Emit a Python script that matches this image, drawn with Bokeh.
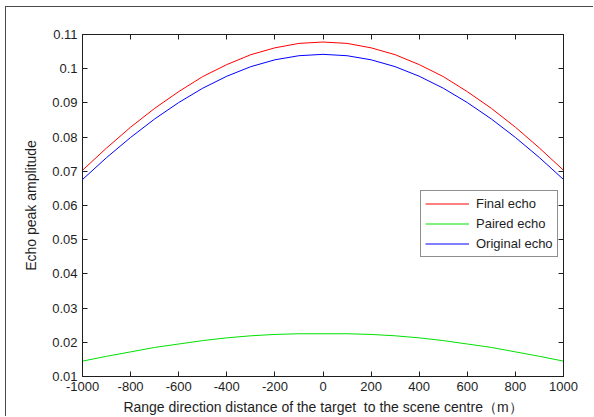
from bokeh.plotting import figure
from bokeh.models import Range1d, FixedTicker, LinearAxis
from bokeh.embed import file_html
from bokeh.resources import INLINE

# Range direction distance of the target to the scene centre (m)
distance = [-1000, -900, -800, -700, -600, -500, -400, -300, -200, -100, 0,
            100, 200, 300, 400, 500, 600, 700, 800, 900, 1000]

final_echo = [0.0703, 0.0768, 0.0829, 0.0884, 0.0933, 0.0977, 0.1012, 0.1041, 0.1061, 0.1074, 0.1078,
              0.1074, 0.1061, 0.1041, 0.1012, 0.0977, 0.0933, 0.0884, 0.0829, 0.0768, 0.0703]
paired_echo = [0.0145, 0.0159, 0.0172, 0.0185, 0.0195, 0.0205, 0.0213, 0.0219, 0.0223, 0.0225, 0.0225,
               0.0225, 0.0223, 0.0219, 0.0213, 0.0205, 0.0195, 0.0185, 0.0172, 0.0159, 0.0145]
original_echo = [0.0676, 0.0740, 0.0799, 0.0853, 0.0901, 0.0943, 0.0978, 0.1006, 0.1026, 0.1038, 0.1042,
                 0.1038, 0.1026, 0.1006, 0.0978, 0.0943, 0.0901, 0.0853, 0.0799, 0.0740, 0.0676]

x_ticks = [-1000, -800, -600, -400, -200, 0, 200, 400, 600, 800, 1000]
x_tick_labels = ["-1000", "-800", "-600", "-400", "-200", "0", "200", "400", "600", "800", "1000"]
y_ticks = [0.01, 0.02, 0.03, 0.04, 0.05, 0.06, 0.07, 0.08, 0.09, 0.1, 0.11]
y_tick_labels = ["0.01", "0.02", "0.03", "0.04", "0.05", "0.06", "0.07", "0.08", "0.09", "0.1", "0.11"]

FONT = "Liberation Sans"
INK = "#1e1e1e"

p = figure(width=588, height=410, output_backend="svg", toolbar_location=None,
           x_range=Range1d(-1000, 1000), y_range=Range1d(0.01, 0.11),
           min_border_left=76, min_border_right=31, min_border_top=27, min_border_bottom=40,
           margin=(6, 0, 0, 5),
           styles={"border-left": "1px solid #4a4a4a", "border-top": "1px solid #4a4a4a"})
p.background_fill_color = "white"
p.border_fill_color = "white"
p.outline_line_color = INK
p.outline_line_width = 1
p.xgrid.visible = False
p.ygrid.visible = False

p.line(distance, final_echo, line_color="#ff0000", line_width=1, legend_label="Final echo")
p.line(distance, paired_echo, line_color="#00e000", line_width=1, legend_label="Paired echo")
p.line(distance, original_echo, line_color="#0000ff", line_width=1, legend_label="Original echo")


def style_axis(ax, ticks, labels, show_labels):
    ax.ticker = FixedTicker(ticks=ticks)
    ax.major_label_overrides = {t: (l if show_labels else "") for t, l in zip(ticks, labels)}
    ax.major_tick_in = 5
    ax.major_tick_out = 0
    ax.minor_tick_line_color = None
    ax.major_tick_line_color = INK
    ax.axis_line_color = INK
    ax.major_label_text_font = FONT
    ax.major_label_text_font_size = "13px"
    ax.major_label_text_color = INK
    ax.major_label_standoff = 5
    ax.axis_label_text_font = FONT
    ax.axis_label_text_font_size = "14px"
    ax.axis_label_text_font_style = "normal"
    ax.axis_label_text_color = INK


style_axis(p.xaxis[0], x_ticks, x_tick_labels, True)
style_axis(p.yaxis[0], y_ticks, y_tick_labels, True)
p.xaxis[0].axis_label = "Range direction distance of the target \u00a0to the scene centre（m）"
p.xaxis[0].axis_label_standoff = 5
p.yaxis[0].axis_label = "Echo peak amplitude"
p.yaxis[0].axis_label_standoff = 10

top_axis = LinearAxis()
right_axis = LinearAxis()
style_axis(top_axis, x_ticks, x_tick_labels, False)
style_axis(right_axis, y_ticks, y_tick_labels, False)
top_axis.major_label_text_font_size = "1px"
right_axis.major_label_text_font_size = "1px"
p.add_layout(top_axis, "above")
p.add_layout(right_axis, "right")

lg = p.legend[0]
lg.location = (338, 119)
lg.border_line_color = INK
lg.border_line_width = 1
lg.background_fill_color = "white"
lg.background_fill_alpha = 1
lg.label_text_font = FONT
lg.label_text_font_size = "13px"
lg.label_text_color = INK
lg.glyph_width = 44
lg.glyph_height = 17
lg.label_height = 17
lg.spacing = 3
lg.padding = 4
lg.label_standoff = 7
lg.margin = 0

open("out.html", "w").write(file_html(p, INLINE))
